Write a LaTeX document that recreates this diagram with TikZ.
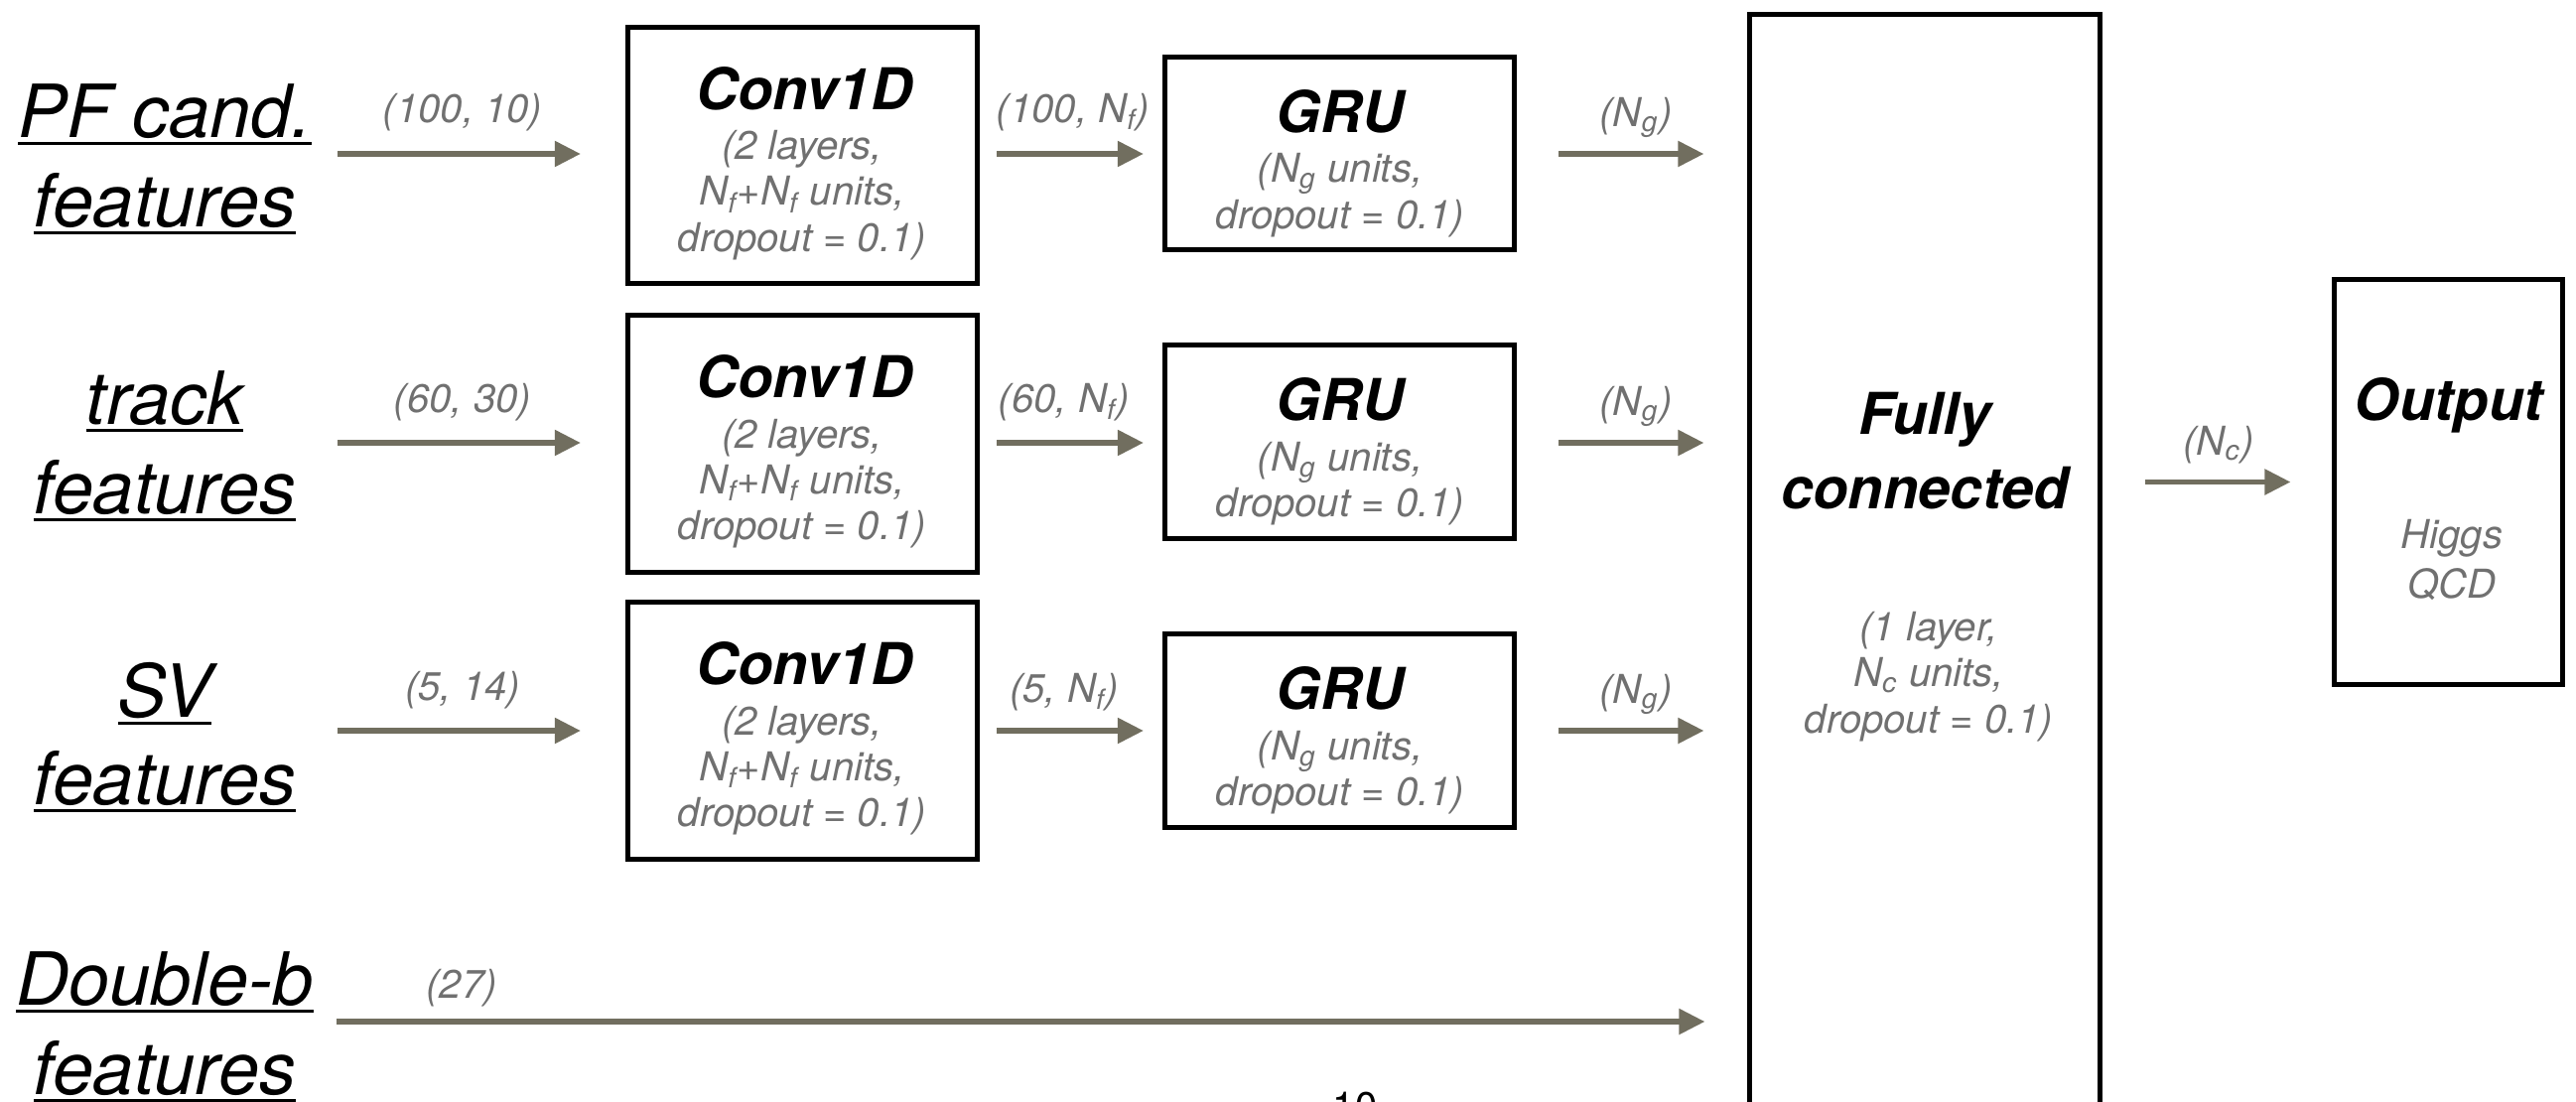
\documentclass[tikz,border=0pt]{standalone}
\usepackage{fontspec}
\setmainfont{TeX Gyre Heros}
\usetikzlibrary{arrows.meta}
\definecolor{arrcol}{RGB}{113,110,95}
\definecolor{txtgray}{RGB}{112,112,112}
\newcommand\myul[1]{\setbox0\hbox{#1}\rlap{\rule[-2.2pt]{\wd0}{0.9pt}}\box0}
\newcommand\mysub[1]{\textsubscript{#1}}
\begin{document}
\begin{tikzpicture}[x=0.01cm,y=-0.01cm,
  boxnode/.style={draw=black, line width=1.42pt, inner sep=0pt, minimum width=3.52cm},
  inlabel/.style={anchor=base, inner sep=0pt, font=\fontsize{21}{25}\selectfont\itshape},
  ttl/.style={anchor=base, inner sep=0pt, font=\fontsize{16.5}{21.3}\selectfont\bfseries\itshape},
  detail/.style={anchor=base, inner sep=0pt, align=center, text=txtgray, font=\fontsize{11.4}{13.1}\selectfont\itshape},
  dimlbl/.style={anchor=base, inner sep=0pt, text=txtgray, font=\fontsize{11.4}{13.1}\selectfont\itshape},
  flowarrow/.style={draw=arrcol, line width=1.5pt, -{Triangle[length=0.26cm,width=0.25cm]}}
]
\useasboundingbox (0,0) rectangle (2595,1109);

% ---------- big boxes ----------
\node[boxnode, minimum height=11.25cm] (fc) at (1939,577.5) {};
\node[ttl] (fct1) at (1939,437) {Fully};
\node[ttl] (fct2) at (1939,512) {connected};
\node[detail] (fcd) at (1943,738) {(1 layer,\\N\mysub{c} units,\\dropout = 0.1)};

\node[boxnode, minimum width=2.29cm, minimum height=4.07cm] (out) at (2466.5,485.5) {};
\node[ttl] (outt) at (2467,423) {Output};
\node[detail, font=\fontsize{11.4}{14}\selectfont\itshape] (outd) at (2470,602) {Higgs\\QCD};

% ---------- row 1 ----------
\node[inlabel] (in1a) at (166,138) {\myul{PF cand.}};
\node[inlabel] (in1b) at (166,228) {\myul{features}};
\coordinate (s1) at (340,155);
\node[boxnode, minimum height=2.58cm] (conv1) at (808.5,156.5) {};
\node[ttl] (conv1t) at (810,110) {Conv1D};
\node[detail] (conv1d) at (808,253) {(2 layers,\\N\mysub{f}+N\mysub{f} units,\\dropout = 0.1)};
\node[boxnode, minimum height=1.94cm] (gru1) at (1349.5,154.5) {};
\node[ttl] (gru1t) at (1350,133) {GRU};
\node[detail] (gru1d) at (1350,230) {(N\mysub{g} units,\\dropout = 0.1)};
\node[dimlbl] (l1a) at (466,123) {(100, 10)};
\node[dimlbl] (l1b) at (1081,123) {(100, N\mysub{f})};
\node[dimlbl] (l1c) at (1648,127) {(N\mysub{g})};
\draw[flowarrow, shorten >=0.45cm] (s1) -- (s1 -| conv1.west);
\draw[flowarrow, shorten <=0.17cm, shorten >=0.19cm] (conv1.east |- s1) -- (s1 -| gru1.west);
\draw[flowarrow, shorten <=0.42cm, shorten >=0.44cm] (gru1.east |- s1) -- (s1 -| fc.west);

% ---------- row 2 ----------
\node[inlabel] (in2a) at (166,427) {\myul{track}};
\node[inlabel] (in2b) at (166,517) {\myul{features}};
\coordinate (s2) at (340,446);
\node[boxnode, minimum height=2.58cm] (conv2) at (808.5,447) {};
\node[ttl] (conv2t) at (810,400.5) {Conv1D};
\node[detail] (conv2d) at (808,543.5) {(2 layers,\\N\mysub{f}+N\mysub{f} units,\\dropout = 0.1)};
\node[boxnode, minimum height=1.94cm] (gru2) at (1349.5,445) {};
\node[ttl] (gru2t) at (1350,423.5) {GRU};
\node[detail] (gru2d) at (1350,520.5) {(N\mysub{g} units,\\dropout = 0.1)};
\node[dimlbl] (l2a) at (466,415) {(60, 30)};
\node[dimlbl] (l2b) at (1072,415) {(60, N\mysub{f})};
\node[dimlbl] (l2c) at (1648,418) {(N\mysub{g})};
\draw[flowarrow, shorten >=0.45cm] (s2) -- (s2 -| conv2.west);
\draw[flowarrow, shorten <=0.17cm, shorten >=0.19cm] (conv2.east |- s2) -- (s2 -| gru2.west);
\draw[flowarrow, shorten <=0.42cm, shorten >=0.44cm] (gru2.east |- s2) -- (s2 -| fc.west);

% ---------- row 3 ----------
\node[inlabel] (in3a) at (166,722) {\myul{SV}};
\node[inlabel] (in3b) at (166,810) {\myul{features}};
\coordinate (s3) at (340,736);
\node[boxnode, minimum height=2.58cm] (conv3) at (808.5,736) {};
\node[ttl] (conv3t) at (810,689.5) {Conv1D};
\node[detail] (conv3d) at (808,832.5) {(2 layers,\\N\mysub{f}+N\mysub{f} units,\\dropout = 0.1)};
\node[boxnode, minimum height=1.94cm] (gru3) at (1349.5,736) {};
\node[ttl] (gru3t) at (1350,714.5) {GRU};
\node[detail] (gru3d) at (1350,811.5) {(N\mysub{g} units,\\dropout = 0.1)};
\node[dimlbl] (l3a) at (466,705) {(5, 14)};
\node[dimlbl] (l3b) at (1072,707) {(5, N\mysub{f})};
\node[dimlbl] (l3c) at (1648,708) {(N\mysub{g})};
\draw[flowarrow, shorten >=0.45cm] (s3) -- (s3 -| conv3.west);
\draw[flowarrow, shorten <=0.17cm, shorten >=0.19cm] (conv3.east |- s3) -- (s3 -| gru3.west);
\draw[flowarrow, shorten <=0.42cm, shorten >=0.44cm] (gru3.east |- s3) -- (s3 -| fc.west);

% ---------- row 4 ----------
\node[inlabel] (in4a) at (166,1012) {\myul{Double-b}};
\node[inlabel] (in4b) at (166,1102) {\myul{features}};
\coordinate (s4) at (339,1029);
\node[dimlbl] (l4a) at (465,1005) {(27)};
\draw[flowarrow, shorten >=0.43cm] (s4) -- (s4 -| fc.west);

% ---------- fc -> output ----------
\node[dimlbl] (l5) at (2235,458) {(N\mysub{c})};
\draw[flowarrow, shorten <=0.43cm, shorten >=0.42cm] (fc.east |- out.west) -- (out.west);

% page number
\node[anchor=base, inner sep=0pt, font=\fontsize{11.4}{13}\selectfont] (pnum) at (1365,1128) {10};
\end{tikzpicture}
\end{document}
